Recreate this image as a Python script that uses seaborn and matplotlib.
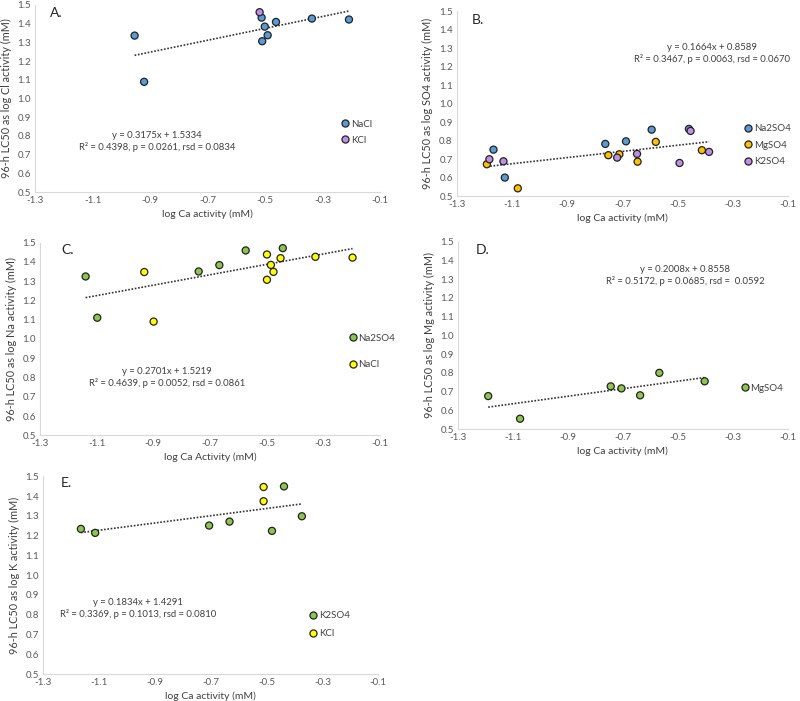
import numpy as np
import pandas as pd
import matplotlib
matplotlib.use("Agg")
import matplotlib.pyplot as plt
import seaborn as sns

# ---- data ----
# A. log Cl activity
a_nacl_x = [-0.954, -0.921, -0.512, -0.501, -0.491, -0.510, -0.462, -0.337, -0.208]
a_nacl_y = [1.336, 1.089, 1.432, 1.384, 1.338, 1.306, 1.409, 1.427, 1.422]
a_kcl_x = [-0.519]
a_kcl_y = [1.461]

# B. log SO4 activity
b_na2so4_x = [-1.167, -1.126, -0.762, -0.687, -0.594, -0.459]
b_na2so4_y = [0.752, 0.601, 0.783, 0.797, 0.860, 0.864]
b_mgso4_x = [-1.191, -1.079, -0.751, -0.711, -0.645, -0.579, -0.412]
b_mgso4_y = [0.673, 0.543, 0.722, 0.727, 0.687, 0.794, 0.749]
b_k2so4_x = [-1.182, -1.131, -0.719, -0.647, -0.493, -0.453, -0.386]
b_k2so4_y = [0.700, 0.689, 0.709, 0.729, 0.680, 0.853, 0.740]

# C. log Na activity
c_na2so4_x = [-1.139, -1.098, -0.740, -0.667, -0.574, -0.443]
c_na2so4_y = [1.324, 1.110, 1.350, 1.383, 1.459, 1.471]
c_nacl_x = [-0.932, -0.899, -0.499, -0.499, -0.485, -0.476, -0.451, -0.328, -0.197]
c_nacl_y = [1.347, 1.090, 1.438, 1.307, 1.384, 1.348, 1.419, 1.426, 1.422]

# D. log Mg activity
d_mgso4_x = [-1.190, -1.074, -0.744, -0.705, -0.637, -0.567, -0.402]
d_mgso4_y = [0.676, 0.555, 0.728, 0.717, 0.680, 0.800, 0.755]

# E. log K activity
e_k2so4_x = [-1.165, -1.114, -0.706, -0.633, -0.481, -0.438, -0.374]
e_k2so4_y = [1.234, 1.214, 1.251, 1.271, 1.224, 1.449, 1.298]
e_kcl_x = [-0.511, -0.511]
e_kcl_y = [1.446, 1.374]

# trendline equations (slope, intercept) and stats text
slopes = [0.3175, 0.1664, 0.2701, 0.2008, 0.1834]
intercepts = [1.5334, 0.8589, 1.5219, 0.8558, 1.4291]
stats = ["R\u00b2 = 0.4398, p = 0.0261, rsd = 0.0834",
         "R\u00b2 = 0.3467, p = 0.0063, rsd = 0.0670",
         "R\u00b2 = 0.4639, p = 0.0052, rsd = 0.0861",
         "R\u00b2 = 0.5172, p = 0.0685, rsd =  0.0592",
         "R\u00b2 = 0.3369, p = 0.1013, rsd = 0.0810"]

ylabels = ["96-h LC50 as log Cl activity (mM)",
           "96-h LC50 as log SO4 activity (mM)",
           "96-h LC50 as log Na activity (mM)",
           "96-h LC50 as log Mg activity (mM)",
           "96-h LC50 as log K activity (mM)"]
xlabels = ["log Ca activity (mM)", "log Ca activity (mM)", "log Ca Activity (mM)",
           "log Ca activity (mM)", "log Ca activity (mM)"]
letters = ["A.", "B.", "C.", "D.", "E."]

blue = "#5B9BD5"
purple = "#BF8FE6"
gold = "#FFC000"
green = "#8DC64F"
yellow = "#FFFF00"

panels = [
    [("NaCl", a_nacl_x, a_nacl_y, blue), ("KCl", a_kcl_x, a_kcl_y, purple)],
    [("Na2SO4", b_na2so4_x, b_na2so4_y, blue), ("MgSO4", b_mgso4_x, b_mgso4_y, gold),
     ("K2SO4", b_k2so4_x, b_k2so4_y, purple)],
    [("Na2SO4", c_na2so4_x, c_na2so4_y, green), ("NaCl", c_nacl_x, c_nacl_y, yellow)],
    [("MgSO4", d_mgso4_x, d_mgso4_y, green)],
    [("K2SO4", e_k2so4_x, e_k2so4_y, green), ("KCl", e_kcl_x, e_kcl_y, yellow)],
]

# layout (figure fractions) and placement of annotations (axes fractions)
rects = [[0.044, 0.726, 0.431, 0.267],
         [0.571, 0.720, 0.414, 0.264],
         [0.050, 0.379, 0.425, 0.275],
         [0.5725, 0.388, 0.412, 0.267],
         [0.054, 0.0385, 0.419, 0.282]]
eq_pos = [(0.354, 0.27), (0.77, 0.77), (0.374, 0.298), (0.69, 0.818), (0.284, 0.333)]
leg_pos = [(0.885, 0.32), (0.865, 0.276), (0.905, 0.435), (0.855, 0.219), (0.79, 0.25)]
leg_spacing = [0.75, 0.75, 1.8, 0.75, 0.95]
letter_pos = [(0.06, 0.957), (0.065, 0.95), (0.08, 0.96), (0.075, 0.957), (0.07, 0.965)]

sns.set_theme(style="white")
plt.rcParams['font.family'] = ['Lato', 'DejaVu Sans']
plt.rcParams['axes.unicode_minus'] = False

fig = plt.figure(figsize=(8, 7.01), dpi=100)

for i in range(5):
    ax = fig.add_axes(rects[i])
    rows = []
    pal = {}
    for name, xs, ys, col in panels[i]:
        pal[name] = col
        for x, y in zip(xs, ys):
            rows.append({"x": x, "y": y, "salt": name})
    df = pd.DataFrame(rows)

    # dotted trendline over data range
    xr = np.array([df["x"].min(), df["x"].max()])
    ax.plot(xr, slopes[i] * xr + intercepts[i], color="#333333", lw=1.2,
            ls=(0, (1, 1)), zorder=1)

    sns.scatterplot(data=df, x="x", y="y", hue="salt", palette=pal, ax=ax,
                    s=26, edgecolor="#222222", linewidth=0.9, zorder=3)

    ax.set_xlim(-1.3, -0.1)
    ax.set_ylim(0.5, 1.5)
    ax.set_xticks(np.arange(-1.3, -0.09, 0.2))
    ax.set_yticks(np.arange(0.5, 1.51, 0.1))
    ax.set_xticklabels(["%.1f" % t for t in np.arange(-1.3, -0.09, 0.2)])
    ax.set_yticklabels(["%.1f" % t for t in np.arange(0.5, 1.51, 0.1)])
    ax.tick_params(length=0, labelsize=7, colors="#595959", pad=3)
    for sp in ["top", "right"]:
        ax.spines[sp].set_visible(False)
    for sp in ["left", "bottom"]:
        ax.spines[sp].set_color("#D9D9D9")
        ax.spines[sp].set_linewidth(0.8)
    ax.set_xlabel(xlabels[i], fontsize=7.5, color="#404040", labelpad=3)
    ax.set_ylabel(ylabels[i], fontsize=7.8, color="#404040", labelpad=4)

    ax.text(eq_pos[i][0], eq_pos[i][1],
            "y = %.4fx + %.4f\n%s" % (slopes[i], intercepts[i], stats[i]),
            transform=ax.transAxes, ha="center", va="center", fontsize=6.8,
            color="#404040", linespacing=1.25)
    ax.text(letter_pos[i][0], letter_pos[i][1], letters[i], transform=ax.transAxes,
            ha="center", va="center", fontsize=10, color="#262626")

    sns.move_legend(ax, "center left", bbox_to_anchor=leg_pos[i], frameon=False,
                    title=None, fontsize=7, handletextpad=0.1, handlelength=1.0,
                    labelspacing=leg_spacing[i], borderaxespad=0, borderpad=0,
                    markerscale=1.0)
    for t in ax.get_legend().get_texts():
        t.set_color("#404040")

fig.savefig("out.png", dpi=100)
